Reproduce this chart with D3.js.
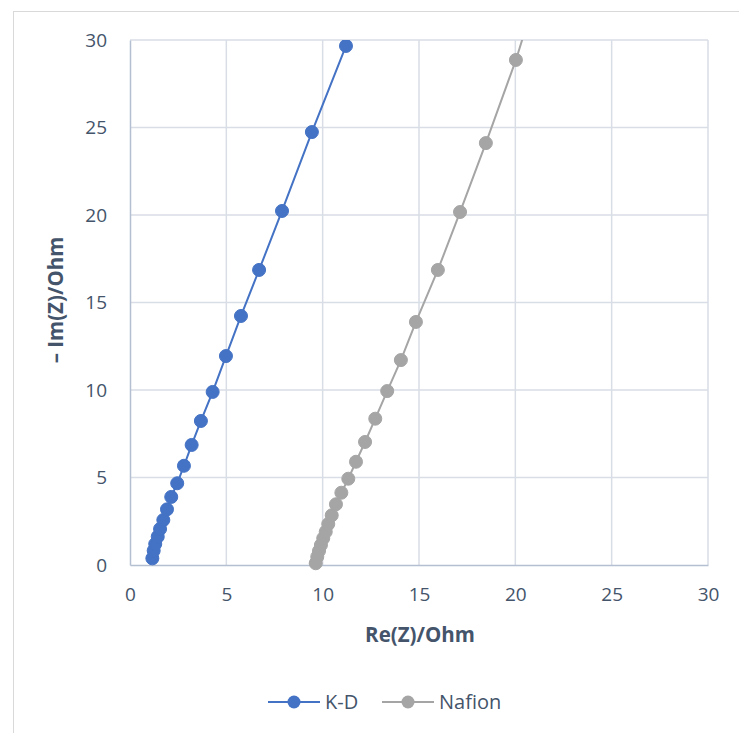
<!DOCTYPE html>
<html>
<head>
<meta charset="utf-8">
<script src="https://cdn.jsdelivr.net/npm/d3@7"></script>
<style>
  body { margin: 0; background: #fff; }
  text { font-family: "Open Sans", "Liberation Sans", sans-serif; }
</style>
</head>
<body>
<div id="chart"></div>
<script>
// K-D series (Re, -Im)
const kdRe = [1.16, 1.23, 1.31, 1.44, 1.56, 1.73, 1.92, 2.14, 2.45, 2.80, 3.20, 3.68, 4.29, 4.98, 5.76, 6.70, 7.89, 9.44, 11.21];
const kdIm = [0.38, 0.82, 1.20, 1.62, 2.06, 2.57, 3.18, 3.89, 4.67, 5.67, 6.86, 8.23, 9.89, 11.94, 14.23, 16.86, 20.23, 24.74, 29.66];

// Nafion series (Re, -Im)
const nafRe = [9.64, 9.72, 9.81, 9.91, 10.03, 10.16, 10.29, 10.47, 10.69, 10.97, 11.33, 11.73, 12.20, 12.73, 13.35, 14.06, 14.84, 15.98, 17.13, 18.47, 20.03, 21.40];
const nafIm = [0.10, 0.47, 0.80, 1.14, 1.53, 1.90, 2.34, 2.84, 3.47, 4.13, 4.93, 5.90, 7.03, 8.36, 9.94, 11.71, 13.89, 16.86, 20.17, 24.11, 28.86, 33.70];

const xTicks = [0, 5, 10, 15, 20, 25, 30];
const yTicks = [0, 5, 10, 15, 20, 25, 30];

const seriesNames = ["K-D", "Nafion"];
const seriesColors = ["#4472C4", "#A5A5A5"];

const width = 739, height = 733;
const margin = { left: 130, top: 40, right: 31, bottom: 168 };
const textColor = "#44546A";

const svg = d3.select("#chart").append("svg")
    .attr("width", width)
    .attr("height", height);

// chart frame
svg.append("rect")
    .attr("x", 13.5).attr("y", 11.5)
    .attr("width", 800).attr("height", 800)
    .attr("fill", "none")
    .attr("stroke", "#D9D9D9");

const x = d3.scaleLinear().domain([0, 30]).range([margin.left, width - margin.right]);
const y = d3.scaleLinear().domain([0, 30]).range([height - margin.bottom, margin.top]);

// gridlines
svg.append("g").selectAll("line.vg")
    .data(xTicks.filter(d => d > 0))
    .enter().append("line")
    .attr("x1", d => x(d)).attr("x2", d => x(d))
    .attr("y1", y(0)).attr("y2", y(30))
    .attr("stroke", "#D9DEE6").attr("stroke-width", 1.5);

svg.append("g").selectAll("line.hg")
    .data(yTicks.filter(d => d > 0))
    .enter().append("line")
    .attr("x1", x(0)).attr("x2", x(30))
    .attr("y1", d => y(d)).attr("y2", d => y(d))
    .attr("stroke", "#D9DEE6").attr("stroke-width", 1.5);

// axes
const xAxis = svg.append("g")
    .attr("transform", `translate(0,${y(0)})`)
    .call(d3.axisBottom(x).tickValues(xTicks).tickSize(0).tickPadding(23));
const yAxis = svg.append("g")
    .attr("transform", `translate(${x(0)},0)`)
    .call(d3.axisLeft(y).tickValues(yTicks).tickSize(0).tickPadding(23));

[xAxis, yAxis].forEach(a => {
    a.select(".domain").attr("stroke", "#B4BFD1").attr("stroke-width", 1.5);
    a.selectAll("text")
        .attr("fill", textColor)
        .style("font-size", "19px")
        .style("font-family", '"Open Sans", "Liberation Sans", sans-serif');
});

// axis titles
svg.append("text")
    .attr("x", 420)
    .attr("y", 642)
    .attr("text-anchor", "middle")
    .attr("fill", textColor)
    .style("font-size", "20.5px")
    .style("font-weight", "bold")
    .text("Re(Z)/Ohm");

svg.append("text")
    .attr("transform", `translate(63,300) rotate(-90)`)
    .attr("text-anchor", "middle")
    .attr("fill", textColor)
    .style("font-size", "20.5px")
    .style("font-weight", "bold")
    .text("– Im(Z)/Ohm");

// clip to plot area
svg.append("clipPath").attr("id", "plot")
    .append("rect")
    .attr("x", x(0) - 10).attr("y", y(30))
    .attr("width", x(30) - x(0) + 20).attr("height", y(0) - y(30) + 10);

const plot = svg.append("g").attr("clip-path", "url(#plot)");

const series = [
    kdRe.map((d, i) => ({ re: d, im: kdIm[i] })),
    nafRe.map((d, i) => ({ re: d, im: nafIm[i] }))
];

const line = d3.line().x(d => x(d.re)).y(d => y(d.im));

series.forEach((s, i) => {
    plot.append("path")
        .datum(s)
        .attr("d", line)
        .attr("fill", "none")
        .attr("stroke", seriesColors[i])
        .attr("stroke-width", 2);

    plot.selectAll(`circle.s${i}`)
        .data(s.filter(d => d.im <= 30))
        .enter().append("circle")
        .attr("class", `s${i}`)
        .attr("cx", d => x(d.re))
        .attr("cy", d => y(d.im))
        .attr("r", 6.5)
        .attr("fill", seriesColors[i])
        .attr("stroke", seriesColors[i])
        .attr("stroke-width", 1);
});

// legend
const legendX = [268, 382];
const legend = svg.append("g");
seriesNames.forEach((name, i) => {
    const g = legend.append("g").attr("transform", `translate(${legendX[i]},702)`);
    g.append("line")
        .attr("x1", 0).attr("x2", 52)
        .attr("stroke", seriesColors[i]).attr("stroke-width", 2);
    g.append("circle")
        .attr("cx", 26).attr("r", 6.5)
        .attr("fill", seriesColors[i]);
    g.append("text")
        .attr("x", 57).attr("dy", "0.35em")
        .attr("fill", textColor)
        .style("font-size", "20px")
        .text(name);
});
</script>
</body>
</html>
